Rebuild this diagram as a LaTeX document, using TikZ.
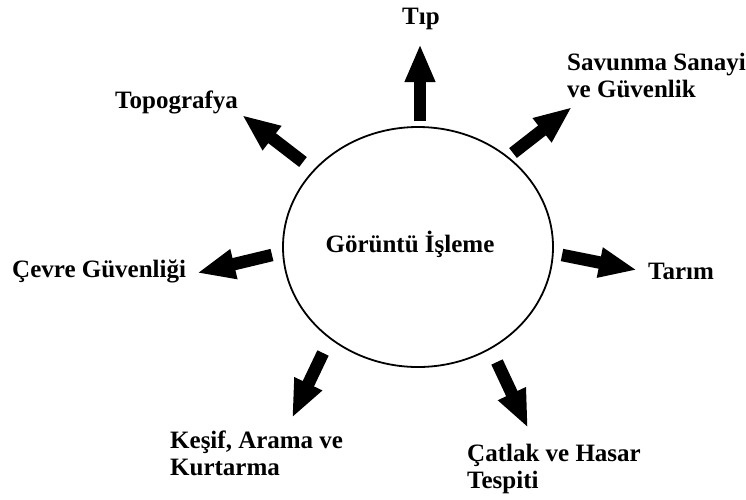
\documentclass[tikz,border=0pt]{standalone}
\usepackage{fontspec}
\setmainfont{Liberation Serif}
\usetikzlibrary{arrows.meta,shapes.geometric,positioning}

\begin{document}
\begin{tikzpicture}[
  x=1pt, y=-1pt,
  every node/.style={font=\bfseries\fontsize{25}{27}\selectfont, inner sep=0pt},
  lbl/.style={align=left, anchor=base west},
  blockarrow/.style={line width=12.5pt, -{Triangle[length=38pt, width=28pt]}}
]
  \useasboundingbox (0,0) rectangle (746,499);

  % --- Mitte ---
  \node (hub) [ellipse, draw, line width=1.8pt, minimum width=270pt, minimum height=240pt] at (418,247) {};
  \node (hubtxt) [anchor=base] at (410,252) {Görüntü İşleme};

  % --- Anwendungsgebiete (base = letzte Zeile) ---
  \node (tip)   [anchor=base] at (421,24) {Tıp};
  \node (savun) [lbl] at (567,97)  {Savunma Sanayi\\ve Güvenlik};
  \node (topo)  [lbl] at (115,108) {Topografya};
  \node (cevre) [lbl] at (12,277)  {Çevre Güvenliği};
  \node (tarim) [lbl] at (648,279) {Tarım};
  \node (kesif) [lbl] at (170,475) {Keşif, Arama ve\\Kurtarma};
  \node (catla) [lbl] at (467,488) {Çatlak ve Hasar\\Tespiti};

  % Pfeilenden
  \coordinate (tip-a)   at (420,121); \coordinate (tip-b)   at (420,44);
  \coordinate (savun-a) at (513,153); \coordinate (savun-b) at (572,107);
  \coordinate (topo-a)  at (303,162); \coordinate (topo-b)  at (242,115);
  \coordinate (cevre-a) at (272,255); \coordinate (cevre-b) at (197,273);
  \coordinate (tarim-a) at (562,255); \coordinate (tarim-b) at (637,270);
  \coordinate (kesif-a) at (323,353); \coordinate (kesif-b) at (292,418);
  \coordinate (catla-a) at (497,362); \coordinate (catla-b) at (528,428);

  \foreach \n in {tip,savun,topo,cevre,tarim,kesif,catla}
    \draw[blockarrow] (\n-a) -- (\n-b);
\end{tikzpicture}
\end{document}
